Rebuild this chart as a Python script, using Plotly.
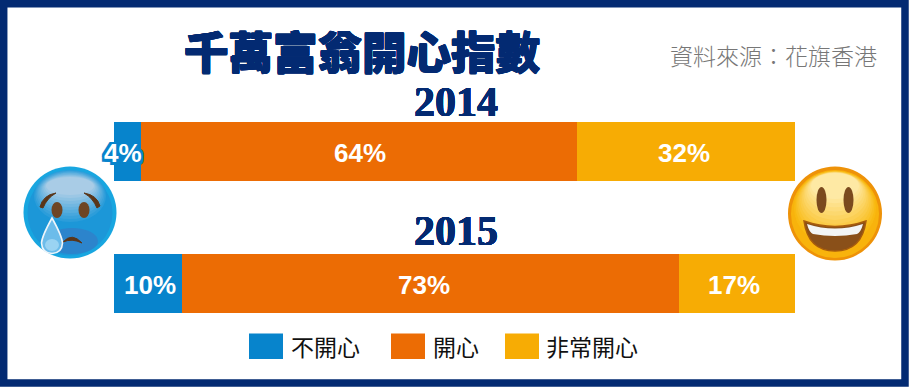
import plotly.graph_objects as go

W, H = 909, 387
years = ["2014", "2015"]
series_names = ["不開心", "開心", "非常開心"]
unhappy = [4, 10]
happy = [64, 73]
very_happy = [32, 17]
series_values = [unhappy, happy, very_happy]
colors = ["#0784CC", "#EC6C04", "#F7AC04"]
title_text = "千萬富翁開心指數"
source_text = "資料來源：花旗香港"
NAVY = "#032A72"
# horizontal nudges (px) of the value labels, as placed in the original
label_nudge = {"2014": [-4.5, 1, -2], "2015": [2, -6.5, -3]}


def fx(x):
    return x / W


def fy(y):
    return 1 - y / H


def ell(cx, cy, rx, ry, fill, line=None, lw=0):
    return dict(type="circle", xref="paper", yref="paper", x0=fx(cx - rx), x1=fx(cx + rx),
                y0=fy(cy + ry), y1=fy(cy - ry), fillcolor=fill,
                line=dict(color=line or fill, width=lw), layer="above")


def path(points, fill=None, line=None, lw=0):
    parts = []
    for p in points:
        if isinstance(p, str):
            parts.append(p)
        else:
            parts.append(f"{fx(p[0]):.5f},{fy(p[1]):.5f}")
    d = dict(type="path", xref="paper", yref="paper", path=" ".join(parts),
             line=dict(color=line or "rgba(0,0,0,0)", width=lw), layer="above")
    if fill:
        d["fillcolor"] = fill
    return d


def rect(x0, y0, x1, y1, fill):
    return dict(type="rect", xref="paper", yref="paper", x0=fx(x0), x1=fx(x1), y0=fy(y1), y1=fy(y0),
                fillcolor=fill, line=dict(color=fill, width=0), layer="above")


def mix(c1, c2, t):
    a = [int(c1[i:i + 2], 16) for i in (1, 3, 5)]
    b = [int(c2[i:i + 2], 16) for i in (1, 3, 5)]
    return "#%02X%02X%02X" % tuple(round(u + (v - u) * t) for u, v in zip(a, b))


def stroke(col, w):
    offs = [(w, 0), (-w, 0), (0, w), (0, -w), (w, w), (-w, -w), (w, -w), (-w, w)]
    return ", ".join(f"{col} {a}px {b}px 0" for a, b in offs)


fig = go.Figure()
for name, vals, col in zip(series_names, series_values, colors):
    fig.add_trace(go.Bar(y=years, x=vals, name=name, orientation="h",
                         marker=dict(color=col, line=dict(width=0)),
                         showlegend=False, hoverinfo="skip"))

shapes = [dict(type="rect", xref="paper", yref="paper", x0=fx(3.7), x1=fx(905), y0=fy(383), y1=fy(3.7),
               line=dict(color=NAVY, width=7.5), fillcolor="rgba(0,0,0,0)", layer="above")]

# Sad blue face
shapes += [ell(70, 212.5, 46.5, 46, "#18A6E0"), ell(70, 213, 42.5, 42.5, "#1C97D8")]
for i in range(10):
    t = i / 9
    shapes.append(ell(70, 196 - 10 * t, 36 - 12 * t, 26 - 17 * t, mix("#2C9DDA", "#A9CCE6", t)))
shapes += [ell(72, 241, 26, 13, "#2C84CC")]
shapes += [ell(57, 210, 5.5, 8, "#6E4524"), ell(84, 210, 5.5, 8, "#6E4524")]
shapes += [path(["M", (40, 207), "Q", (43, 195), (56, 193), "Q", (47, 198), (43, 208), "Z"], fill="#5A3518", line="#5A3518", lw=1),
           path(["M", (100, 206), "Q", (97, 195), (84, 193), "Q", (93, 198), (97, 208), "Z"], fill="#5A3518", line="#5A3518", lw=1)]
shapes += [path(["M", (63, 242), "Q", (72, 232), (82, 243), "Q", (72, 238), (63, 242), "Z"], fill="#5A3518", line="#5A3518", lw=1)]
shapes += [path(["M", (52, 218), "Q", (42, 236), (41.5, 243), "Q", (42, 253), (52, 253.5), "Q", (62, 253), (62.5, 243),
                 "Q", (62, 236), (52, 218), "Z"], fill="#6CBCEA", line="#EEF5FA", lw=1.6)]
shapes += [ell(52, 245, 7, 6, "#9AD3F2")]

# Happy yellow face
shapes += [ell(835, 213.5, 47, 47, "#EE9208"), ell(835, 214, 44, 44, "#F8B30C")]
for i in range(12):
    t = i / 11
    shapes.append(ell(835, 208 - 22 * t, 41 - 17 * t, 37 - 24 * t, mix("#F9BA12", "#FEE9A4", t)))
shapes += [ell(821.5, 200, 5, 13, "#7B4A1E"), ell(848.5, 200, 5, 13, "#7B4A1E")]
shapes += [path(["M", (804, 221), "Q", (835, 232), (866, 221), "Q", (862, 251), (835, 251), "Q", (808, 251), (804, 221), "Z"],
                fill="#8A5019", line="#A85C0C", lw=1.5)]
shapes += [path(["M", (807, 224), "Q", (835, 233), (863, 224), "Q", (861, 232), (857, 234), "Q", (835, 238), (813, 234),
                 "Q", (809, 232), (807, 224), "Z"], fill="#F3F5F5")]

annotations = [
    dict(text=title_text, x=fx(362), y=fy(50), xref="paper", yref="paper",
         font=dict(family="Noto Sans CJK TC", size=44.5, color=NAVY, weight=900, shadow=stroke(NAVY, 0.5))),
    dict(text=source_text, x=fx(773), y=fy(55), xref="paper", yref="paper",
         font=dict(family="Noto Sans CJK TC", size=23, color="#777777", weight=300)),
    dict(text=years[0], x=fx(456), y=fy(102), xref="paper", yref="paper",
         font=dict(family="Liberation Serif", size=42, color=NAVY, weight="bold", shadow=stroke(NAVY, 0.3))),
    dict(text=years[1], x=fx(456), y=fy(231), xref="paper", yref="paper",
         font=dict(family="Liberation Serif", size=42, color=NAVY, weight="bold", shadow=stroke(NAVY, 0.3))),
]

# Value labels, placed through the data axes at the middle of each segment
for r, yr in enumerate(years):
    left = 0
    for s, (name, vals, col) in enumerate(zip(series_names, series_values, colors)):
        v = vals[r]
        shadow = stroke(col, 2.5) if name == "不開心" else "none"
        annotations.append(dict(text=f"{v}%", x=left + v / 2, y=r, xref="x", yref="y",
                                xshift=label_nudge[yr][s], yshift=-1.5,
                                font=dict(family="Liberation Sans", size=26, color="white", weight="bold", shadow=shadow)))
        left += v

# Legend
leg_swatch_x = [249, 391, 505]
leg_text_x = [289, 431, 544]
for sx, tx, name, col in zip(leg_swatch_x, leg_text_x, series_names, colors):
    shapes.append(rect(sx, 333.5, sx + 34, 359, col))
    annotations.append(dict(text=name, x=fx(tx), y=fy(346), xref="paper", yref="paper", xanchor="left",
                            font=dict(family="Noto Sans CJK TC", size=23, color="#111111")))

for a in annotations:
    a.update(showarrow=False, yanchor="middle", align="center")
    a.setdefault("xanchor", "center")

fig.update_layout(
    width=W, height=H, autosize=False, barmode="stack", bargap=1 - 59 / 132,
    margin=dict(l=0, r=0, t=0, b=0), paper_bgcolor="white", plot_bgcolor="white",
    showlegend=False, shapes=shapes, annotations=annotations,
    xaxis=dict(domain=[fx(114), fx(795)], range=[0, 100], visible=False, fixedrange=True),
    yaxis=dict(domain=[fy(349.5), fy(85.5)], range=[1.5, -0.5], type="category",
               categoryorder="array", categoryarray=years, visible=False, fixedrange=True),
)
fig.write_html("out.html", config={"displayModeBar": False},
               post_script="document.body.style.margin='0';")
